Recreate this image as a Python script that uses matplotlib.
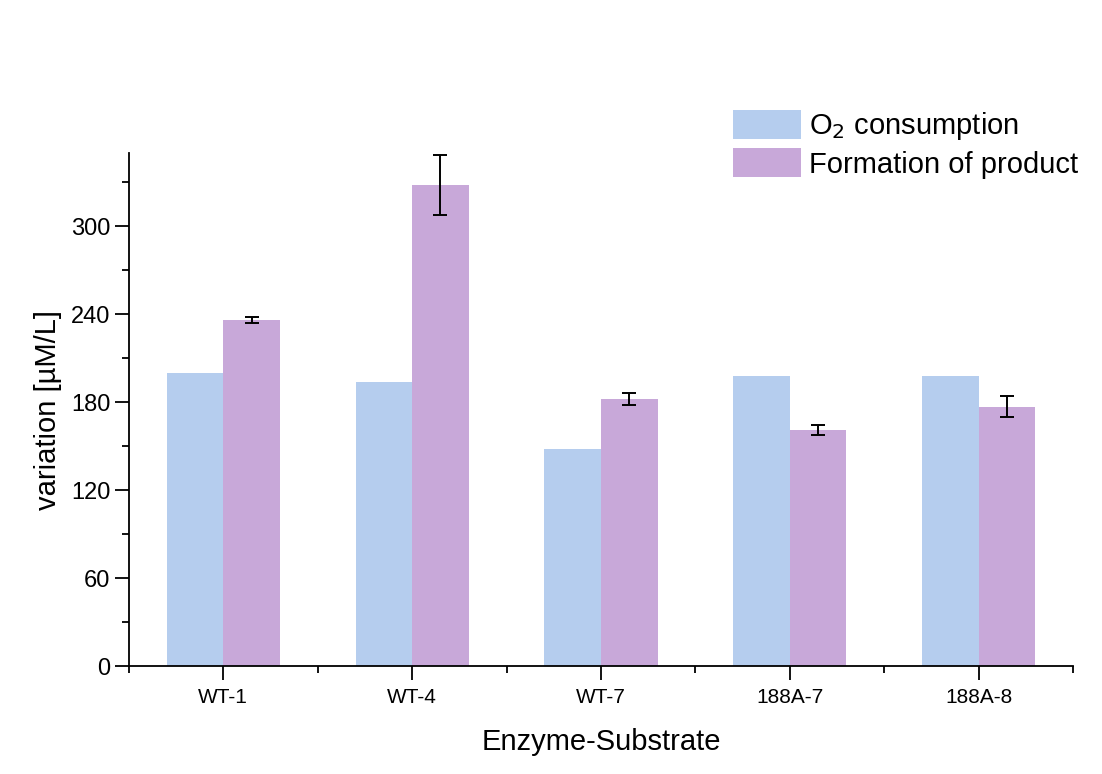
import numpy as np
import matplotlib
matplotlib.use("Agg")
import matplotlib.pyplot as plt
from matplotlib.ticker import MultipleLocator, FixedLocator

plt.rcParams['font.family'] = ['Liberation Sans', 'DejaVu Sans']

# dados das medições
amostras = ["WT-1", "WT-4", "WT-7", "188A-7", "188A-8"]
consumo_o2 = [200, 194, 148, 198, 198]
formacao_produto = [236, 328, 182, 161, 177]
erro_produto = [2, 20.5, 4, 3.2, 7.4]

cor_o2 = "#b5cdee"
cor_produto = "#c8a8d9"

fig = plt.figure(figsize=(11.02, 7.74), dpi=100)
ax = fig.add_axes([0.117, 0.1395, 0.8567, 0.6628])

x = np.arange(len(amostras))
largura = 0.3
ax.bar(x - largura / 2, consumo_o2, largura, color=cor_o2, label="O$_2$ consumption")
ax.bar(x + largura / 2, formacao_produto, largura, color=cor_produto, label="Formation of product")
ax.errorbar(x + largura / 2, formacao_produto, yerr=erro_produto, fmt='none',
            ecolor='black', elinewidth=1.4, capsize=5, capthick=1.4)

ax.set_xlim(-0.5, len(amostras) - 0.5)
ax.set_ylim(0, 350)
ax.yaxis.set_major_locator(MultipleLocator(60))
ax.yaxis.set_minor_locator(MultipleLocator(30))
ax.set_xticks(x)
ax.set_xticklabels(amostras, fontsize=15)
ax.xaxis.set_minor_locator(FixedLocator(np.arange(-0.5, len(amostras), 1.0)))
ax.tick_params(axis='y', labelsize=17)
ax.tick_params(axis='x', which='major', pad=6)
ax.tick_params(which='major', length=10, width=1.3)
ax.tick_params(which='minor', length=5, width=1.3)

for lado in ['top', 'right']:
    ax.spines[lado].set_visible(False)
for lado in ['left', 'bottom']:
    ax.spines[lado].set_linewidth(1.3)

ax.set_xlabel("Enzyme-Substrate", fontsize=21, labelpad=15)
ax.set_ylabel("variation [µM/L]", fontsize=21, labelpad=6)

fig.legend(loc='upper left', bbox_to_anchor=(0.655, 0.873), fontsize=21,
           frameon=False, handlelength=2.3, handleheight=1.15,
           handletextpad=0.3, labelspacing=0.2, borderaxespad=0)

fig.savefig("out.png", dpi=100)
